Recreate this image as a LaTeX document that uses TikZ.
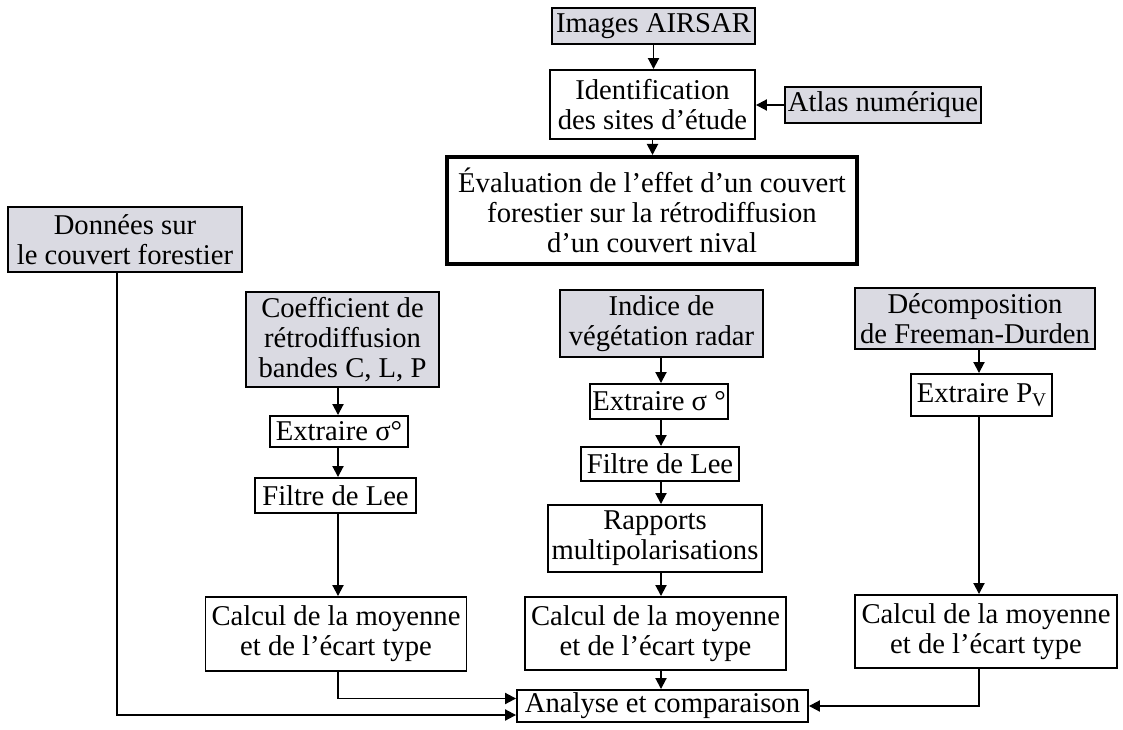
\documentclass[tikz,border=0pt]{standalone}
\usepackage{fontspec}
\setmainfont{Liberation Serif}
\usetikzlibrary{arrows.meta,calc}
\definecolor{boxgrey}{RGB}{218,218,226}
\tikzset{
  base/.style={draw=black, line width=1.1pt, align=center, inner sep=1pt,
    font=\fontsize{16.3pt}{17.2pt}\selectfont},
  gbox/.style={base, fill=boxgrey},
  wbox/.style={base, fill=white},
  tbox/.style={base, fill=white, line width=2.3pt},
  arr/.style={line width=1.1pt, -{Triangle[length=0.22cm,width=0.22cm]}},
  ln/.style={line width=1.1pt}
}
\begin{document}
\begin{tikzpicture}[x=0.02cm, y=-0.02cm]
\fill[white] (0,0) rectangle (1123,730);
\useasboundingbox (0,0) rectangle (1123,730);
% top
\node[gbox, minimum width=4.06cm, minimum height=0.72cm] (air) at (653.5,26) {Images AIRSAR};
\node[wbox, minimum width=4.10cm, minimum height=1.38cm] (ident) at (652.5,104.5) {Identification\\des sites d’étude};
\node[gbox, minimum width=3.92cm, minimum height=0.72cm] (atlas) at (883,105) {Atlas numérique};
\node[tbox, minimum width=8.2cm, minimum height=2.14cm] (eval) at (652,210.5) {Évaluation de l’effet d’un couvert\\forestier sur la rétrodiffusion\\d’un couvert nival};
\node[gbox, minimum width=4.68cm, minimum height=1.30cm] (donnees) at (125,239.5) {Données sur\\le couvert forestier};
% left column
\node[gbox, minimum width=3.86cm, minimum height=1.90cm] (coeff) at (342.5,339.5) {Coefficient de\\rétrodiffusion\\bandes C, L, P};
\node[wbox, minimum width=2.76cm, minimum height=0.62cm] (extL) at (339,431.5) {Extraire σ°};
\node[wbox, minimum width=3.22cm, minimum height=0.70cm] (filtL) at (335.5,495.5) {Filtre de Lee};
\node[wbox, minimum width=5.22cm, minimum height=1.48cm] (calcL) at (336,634) {Calcul de la moyenne\\et de l’écart type};
% middle column
\node[gbox, minimum width=4.06cm, minimum height=1.34cm] (indice) at (661.5,323.5) {Indice de\\végétation radar};
\node[wbox, minimum width=2.76cm, minimum height=0.70cm] (extM) at (659,401.5) {Extraire σ °};
\node[wbox, minimum width=3.16cm, minimum height=0.68cm] (filtM) at (660,464) {Filtre de Lee};
\node[wbox, minimum width=4.28cm, minimum height=1.34cm] (rapp) at (655,538.5) {Rapports\\multipolarisations};
\node[wbox, minimum width=5.22cm, minimum height=1.46cm] (calcM) at (655.5,633.5) {Calcul de la moyenne\\et de l’écart type};
\node[wbox, minimum width=5.82cm, minimum height=0.64cm] (anal) at (662.5,706) {Analyse et comparaison};
% right column
\node[gbox, minimum width=4.80cm, minimum height=1.22cm] (decomp) at (975,318.5) {Décomposition\\de Freeman-Durden};
\node[wbox, minimum width=2.82cm, minimum height=0.84cm] (extP) at (981.5,395) {Extraire P\raisebox{-0.35ex}{\fontsize{11pt}{11pt}\selectfont V}};
\node[wbox, minimum width=5.24cm, minimum height=1.46cm] (calcR) at (986,631.5) {Calcul de la moyenne\\et de l’écart type};
% column coordinates
\coordinate (colD) at (117,0);
\coordinate (colL) at (338,0);
\coordinate (colM) at (661,0);
\coordinate (colR) at (979,0);
% connectors
\draw[arr] (air.south) -- (air.south |- ident.north);
\draw[arr] (atlas.west) -- (atlas.west -| ident.east);
\draw[arr] (ident.south) -- (ident.south |- eval.north);
\draw[arr] (coeff.south -| colL) -- (extL.north -| colL);
\draw[arr] (extL.south -| colL) -- (filtL.north -| colL);
\draw[arr] (filtL.south -| colL) -- (calcL.north -| colL);
\draw[arr] (indice.south -| colM) -- (extM.north -| colM);
\draw[arr] (extM.south -| colM) -- (filtM.north -| colM);
\draw[arr] (filtM.south -| colM) -- (rapp.north -| colM);
\draw[arr] (rapp.south -| colM) -- (calcM.north -| colM);
\draw[arr] (calcM.south -| colM) -- (anal.north -| colM);
\draw[arr] (decomp.south -| colR) -- (extP.north -| colR);
\draw[arr] (extP.south -| colR) -- (calcR.north -| colR);
\draw[arr] (calcR.south -| colR) |- (anal.east);
\draw[arr] (calcL.south -| colL) |- ([yshift=0.15cm]anal.west);
\draw[arr] (donnees.south -| colD) |- ([yshift=-0.18cm]anal.west);
\end{tikzpicture}
\end{document}
